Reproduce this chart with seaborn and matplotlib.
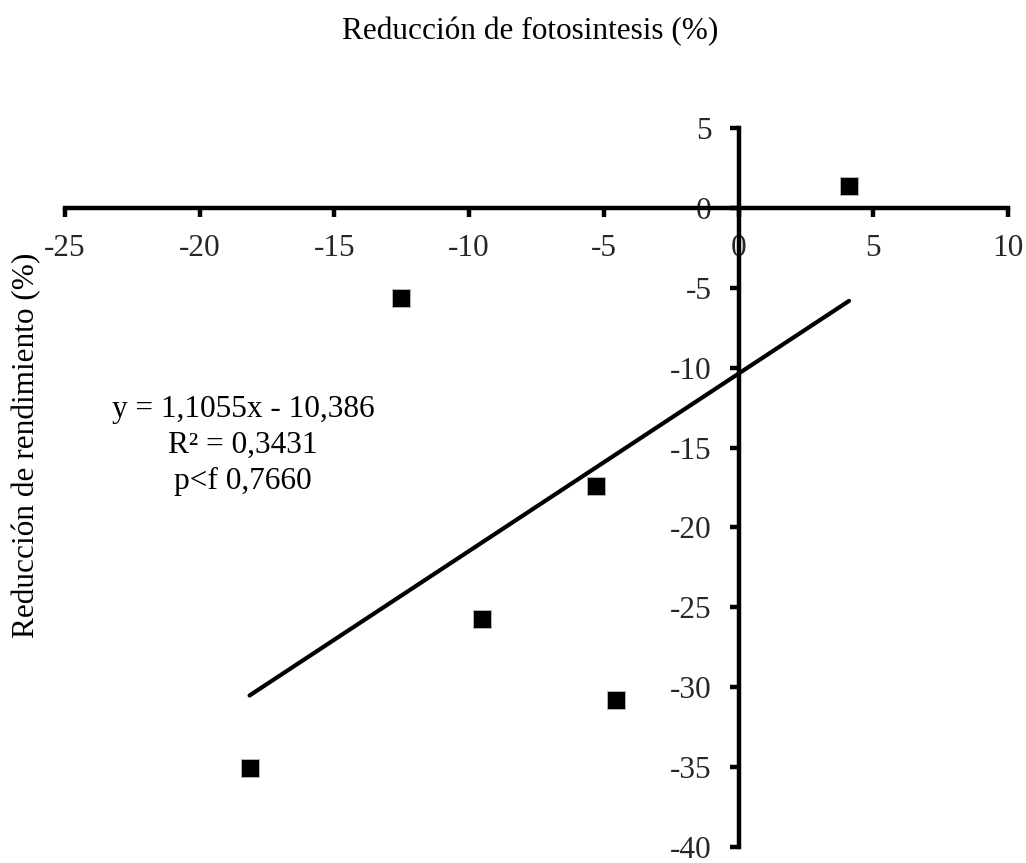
import matplotlib
matplotlib.use("Agg")
import matplotlib.pyplot as plt
import seaborn as sns
import pandas as pd

# Data
fotosintesis = [4.1, -12.54, -5.3, -9.54, -4.56, -18.15]
rendimiento = [1.37, -5.67, -17.41, -25.7, -30.8, -35.07]
x_ticks = [-25, -20, -15, -10, -5, 0, 5, 10]
y_ticks = [5, 0, -5, -10, -15, -20, -25, -30, -35, -40]
x_label = "Reducción de fotosintesis (%)"
y_label = "Reducción de rendimiento (%)"
equation = "y = 1,1055x - 10,386\nR² = 0,3431\np<f 0,7660"

df = pd.DataFrame({"x": fotosintesis, "y": rendimiento})

sns.set_theme(style="white")
plt.rcParams["font.family"] = ["Liberation Serif", "DejaVu Serif"]

FS = 22.5

fig = plt.figure(figsize=(10.26, 8.63), dpi=100)
ax = fig.add_axes([65 / 1026, 1 - 847 / 863, 943 / 1026, 719 / 863])

sns.regplot(data=df, x="x", y="y", ci=None, scatter=False, ax=ax,
            line_kws=dict(color="black", lw=3.0, solid_capstyle="round"))
sns.scatterplot(data=df, x="x", y="y", marker="s", s=170, color="black",
                edgecolor="#bbbbbb", linewidth=0.6, ax=ax, zorder=5)

ax.set_xlim(-25, 10)
ax.set_ylim(-40, 5)
ax.set_xticks(x_ticks)
ax.set_yticks(y_ticks)
ax.set_xticklabels([str(v) for v in x_ticks])
ax.set_yticklabels([str(v) for v in y_ticks])

for s in ["top", "right"]:
    ax.spines[s].set_visible(False)
ax.spines["left"].set_position(("data", 0))
ax.spines["bottom"].set_position(("data", 0))
for s in ["left", "bottom"]:
    ax.spines[s].set_color("black")
    ax.spines[s].set_linewidth(3.2)
    ax.spines[s].set_capstyle("projecting")

ax.tick_params(axis="x", direction="out", length=6.5, width=3.2, color="black",
               labelsize=FS, pad=12, bottom=True)
ax.tick_params(axis="y", direction="out", length=6.5, width=3.2, color="black",
               labelsize=FS, pad=13, left=True)
ax.grid(False)

ax.set_xlabel(x_label, fontsize=FS, color="black")
ax.xaxis.set_label_position("top")
ax.xaxis.set_label_coords((530 - 65) / 943, (847 - 32) / 719)
ax.xaxis.label.set_va("center")

ax.set_ylabel(y_label, fontsize=FS, color="black")
ax.yaxis.set_label_coords((27 - 65) / 943, (847 - 445) / 719)
ax.yaxis.label.set_va("center")
ax.yaxis.label.set_ha("center")

ax.text(-18.4, -14.85, equation, ha="center", va="center", fontsize=FS,
        color="black", linespacing=1.32)

fig.savefig("out.png", dpi=100)
